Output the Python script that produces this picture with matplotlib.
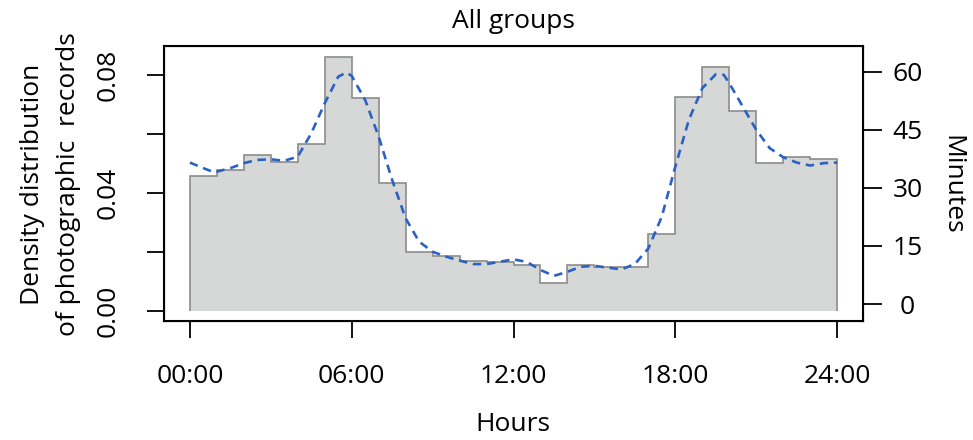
import numpy as np
import matplotlib
matplotlib.use('Agg')
from matplotlib import pyplot as plt

plt.rcParams['font.family'] = ['Open Sans', 'DejaVu Sans']

# hourly density of photographic records (bins 0-1, 1-2, ... 23-24 h)
hour_edges = np.arange(0, 25)
density = [0.0459, 0.0478, 0.0529, 0.0505, 0.0566, 0.0860, 0.0721, 0.0435,
           0.0201, 0.0186, 0.0169, 0.0167, 0.0155, 0.0096, 0.0156, 0.0150,
           0.0150, 0.0261, 0.0724, 0.0828, 0.0678, 0.0501, 0.0523, 0.0516]

# smoothed curve (density units)
curve_x = [0, 0.5, 0.9, 1.5, 2, 2.5, 3, 3.5, 4, 4.5, 5, 5.5, 5.8, 6, 6.5, 7,
           7.5, 8, 8.5, 9, 9.5, 10, 10.5, 11, 11.5, 12, 12.5, 13, 13.5, 14,
           14.5, 15, 15.5, 16, 16.5, 17, 17.5, 18, 18.5, 19, 19.5, 19.8, 20,
           20.5, 21, 21.5, 22, 22.5, 23, 23.5, 24]
curve_y = [0.0503, 0.0484, 0.0470, 0.0484, 0.0501, 0.0512, 0.0514, 0.0509,
           0.0523, 0.0602, 0.0704, 0.0794, 0.0808, 0.0797, 0.0715, 0.0591,
           0.0444, 0.0314, 0.0235, 0.0201, 0.0184, 0.0171, 0.0159, 0.0159,
           0.0167, 0.0175, 0.0166, 0.0139, 0.0119, 0.0133, 0.0150, 0.0153,
           0.0147, 0.0141, 0.0159, 0.0212, 0.0320, 0.0489, 0.0647, 0.0755,
           0.0802, 0.0800, 0.0772, 0.0693, 0.0614, 0.0552, 0.0521, 0.0503,
           0.0493, 0.0501, 0.0503]

x_ticks = [0, 6, 12, 18, 24]
x_labels = ['00:00', '06:00', '12:00', '18:00', '24:00']
y_ticks = [0.00, 0.02, 0.04, 0.06, 0.08]
y_labels = ['0.00', '', '0.04', '', '0.08']
min_ticks = [0, 15, 30, 45, 60]

fs = 19

fig = plt.figure(figsize=(9.73, 4.40), dpi=100)
ax = fig.add_axes([164 / 973, 1 - 321 / 440, 699 / 973, 275 / 440])

ax.stairs(density, hour_edges, baseline=0, fill=True,
          facecolor='#d6d7d7', edgecolor='#8c8c8c', linewidth=1.2)
ax.plot(curve_x, curve_y, color='#2a62c4', linewidth=1.9,
        linestyle=(0, (3.2, 2.2)))

ax.set_xlim(-0.96, 24.96)
ax.set_ylim(-0.00339, 0.0898)
ax.set_xticks(x_ticks)
ax.set_xticklabels(x_labels, fontsize=fs)
ax.set_yticks(y_ticks)
ax.set_yticklabels(y_labels, fontsize=fs, rotation=90, va='center')
ax.tick_params(axis='x', length=12, width=1.3, pad=19)
ax.tick_params(axis='y', length=12, width=1.3, pad=19)
for s in ax.spines.values():
    s.set_linewidth(1.5)

# right axis in minutes
ax2 = ax.twinx()
ax2.set_ylim((304 - 321) / 3.872, (304 - 46) / 3.872)
ax2.set_yticks(min_ticks)
ax2.set_yticklabels([str(m) for m in min_ticks], fontsize=fs)
for lab in ax2.get_yticklabels():
    lab.set_horizontalalignment('center')
ax2.tick_params(axis='y', length=14, width=1.3, pad=18)

fig.text(513 / 973, 1 - 22 / 440, 'All groups', ha='center', va='center', fontsize=fs)
fig.text(513 / 973, 1 - 424 / 440, 'Hours', ha='center', va='center', fontsize=fs)
fig.text(952 / 973, 1 - 185 / 440, 'Minutes', ha='center', va='center',
         rotation=270, fontsize=fs)
fig.text(33 / 973, 1 - 184 / 440, 'Density distribution', ha='center',
         va='center', rotation=90, fontsize=fs)
fig.text(69 / 973, 1 - 184 / 440, 'of photographic  records', ha='center',
         va='center', rotation=90, fontsize=fs)

fig.savefig('out.png', dpi=100)
